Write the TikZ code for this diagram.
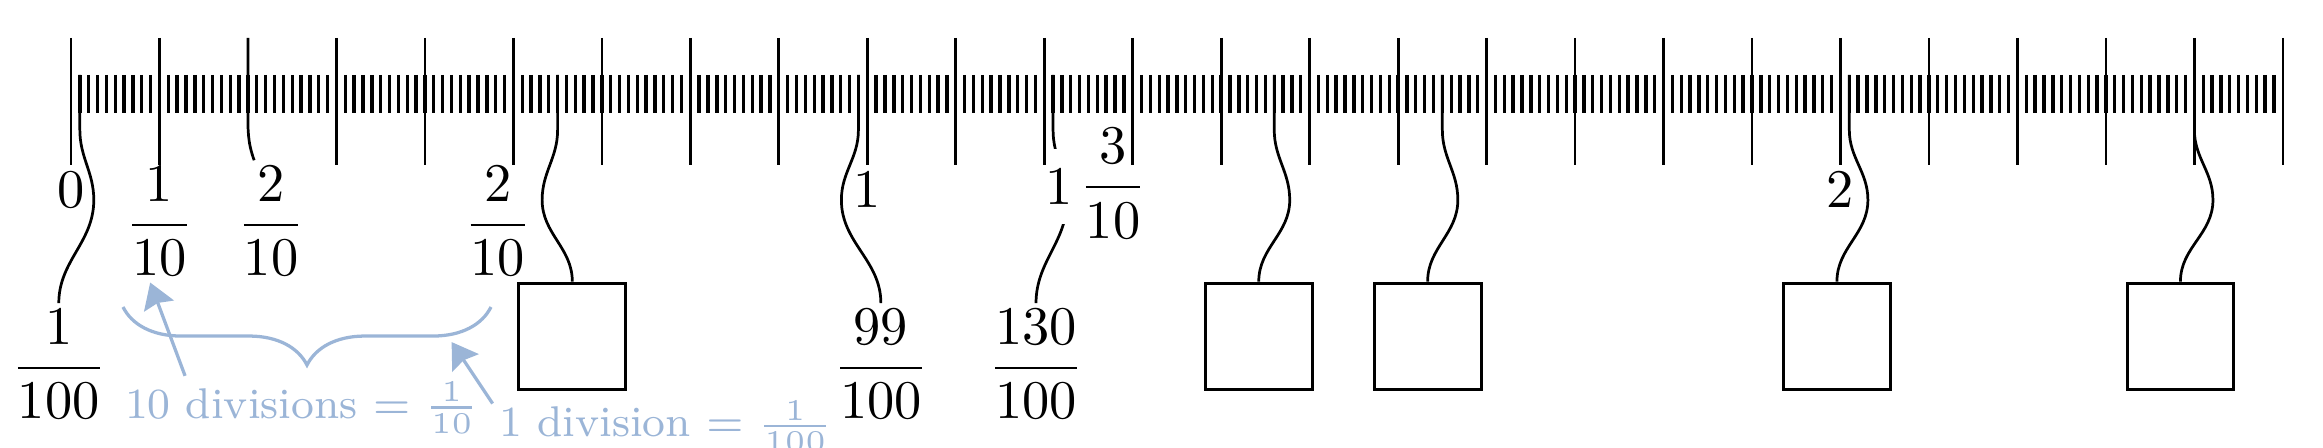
\RequirePackage{fix-cm}
\documentclass[tikz,border=0pt]{standalone}
\usepackage{amsmath}
\usetikzlibrary{
  arrows.meta,
  decorations.pathreplacing,
  backgrounds
}
\definecolor{hintblue}{RGB}{155,181,215}
\tikzset{
  >={Stealth[length=4.6pt,width=5.8pt,inset=0.6pt]},
  % styles
  major/.style={line width=0.5pt},
  minor/.style={line width=0.62pt},
  thread/.style={line width=0.5pt},
  reading/.style={inner sep=1pt},
  weight/.style={
    draw,
    line width=0.55pt,
    minimum size=6.9mm,
    inner sep=0pt,
  },
  hint/.style={
    draw=hintblue,
    line width=0.6pt,
  },
  hint text/.style={
    text=hintblue,
    inner sep=1pt,
    anchor=base west,
    font=\fontsize{7.9}{10}\selectfont,
  }
}

\begin{document}
\begin{tikzpicture}
  \useasboundingbox (0,0) rectangle (15,2.8928);

  % coordinates of the scale
  \foreach \i in {1,...,249}
    \coordinate (m\i) at (0.4585+0.05713*\i,2.4085);
  \foreach \j in {0,...,25}
    \coordinate (k\j) at (0.4585+0.5713*\j,2.6474);

  % readings
  \node [reading] (zero)      at ([yshift=-9.81mm]k0)              {$0$};
  \node [reading] (onetenth)  at ([yshift=-11.84mm]k1)             {$\dfrac{1}{10}$};
  \node [reading] (twotenths) at ([shift={(1.5mm,-11.84mm)}]k2)    {$\dfrac{2}{10}$};
  \node [reading] (twoagain)  at ([shift={(-1mm,-11.84mm)}]k5)     {$\dfrac{2}{10}$};
  \node [reading] (one)       at ([yshift=-9.81mm]k9)              {$1$};
  \node [reading,fill=white,inner ysep=3.6pt] (whole)
                              at ([shift={(0.97mm,-9.59mm)}]k11)   {$1$};
  \node [reading] (threetenths) at ([shift={(3.48mm,0.2mm)}]whole) {$\dfrac{3}{10}$};
  \node [reading] (two)       at ([yshift=-9.81mm]k20)             {$2$};

  % hanging readings and weights
  \node [reading] (hundredth)  at ([shift={(-1.36mm,-18.68mm)}]m1)  {$\dfrac{1}{100}$};
  \node [reading] (ninetynine) at ([shift={(1.45mm,-18.68mm)}]m89)  {$\dfrac{99}{100}$};
  \node [reading] (onethirty)  at ([shift={(-1.1mm,-18.68mm)}]m111) {$\dfrac{130}{100}$};
  \node [weight] (box1) at ([shift={(0.95mm,-16.885mm)}]m55)  {};
  \node [weight] (box2) at ([shift={(-1mm,-16.885mm)}]m136)   {};
  \node [weight] (box3) at ([shift={(-0.95mm,-16.885mm)}]m155) {};
  \node [weight] (box4) at ([shift={(-0.8mm,-16.885mm)}]m201) {};
  \node [weight] (box5) at ([shift={(-0.9mm,-16.885mm)}]m240) {};

  % ticks
  \foreach \i in {1,...,249}
    \draw [minor] (m\i) -- ++(0,-0.2454);
  \foreach \j in {0,...,25} {
    \ifnum\j=2 \else \draw [major] (k\j) -- ++(0,-0.82); \fi
  }
  \draw [major] (k2) -- ++(0,-0.465) to[out=-90,in=110] ([xshift=-1.1mm]twotenths.north);

  % threads
  \begin{scope}[on background layer]
    \foreach \i/\d/\t in {1/0.09/hundredth,55/-0.1/box1,89/-0.11/ninetynine,
                         111/0.09/onethirty,136/0.1/box2,155/0.1/box3,
                         201/0.12/box4,240/0.12/box5}
      \draw [thread] (m\i) -- ++(0,-0.355) to[out=-90,in=90] ++(\d,-0.452)
        to[out=-90,in=90] (\t.north);
  \end{scope}

  % annotation
  \node [hint text] (tens) at (0.765,0.192) {10 divisions $=\frac{1}{10}$};
  \node [hint text] (unit) at (3.181,0.073) {1 division $=\frac{1}{100}$};
  \coordinate (brace right) at (3.1705,0.9104);
  \coordinate (brace left)  at (0.7942,0.9104);
  \coordinate (arm) at (2.916,0.684);
  \draw [hint,decorate,decoration={brace,amplitude=3.75mm}] (brace right) -- (brace left);
  \draw [hint,->] ([xshift=4.3mm]tens.north west) -- ([xshift=-0.6mm]onetenth.south);
  \draw [hint,->] ([yshift=-0.6mm]unit.north west) -- (arm);
\end{tikzpicture}
\end{document}
